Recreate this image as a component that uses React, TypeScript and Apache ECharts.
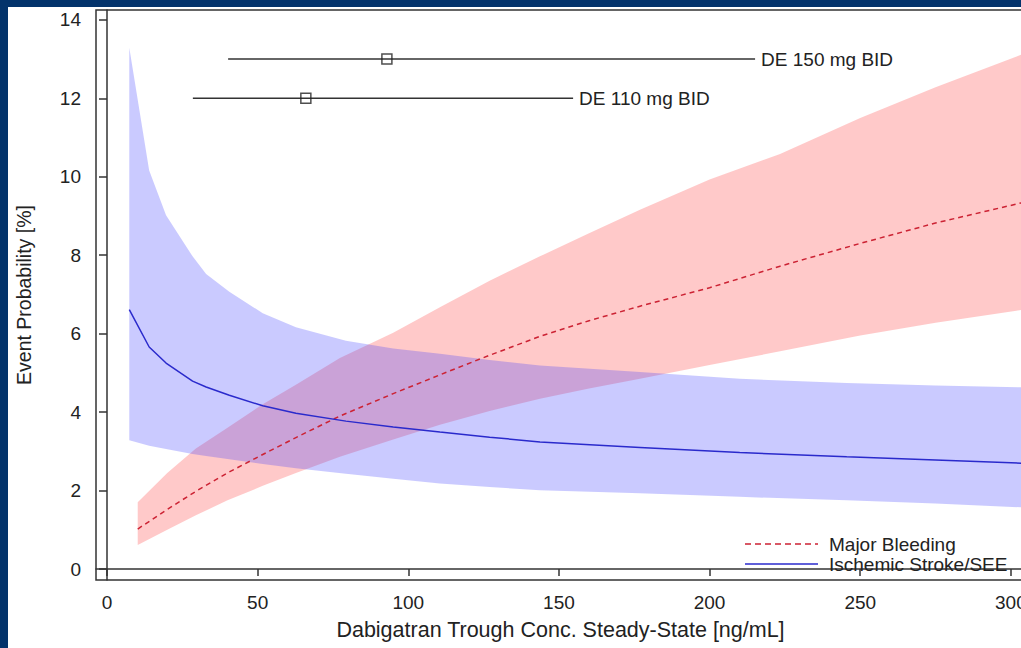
import React, { useEffect, useRef } from "react";
import * as echarts from "echarts";

const xTicks = [0, 50, 100, 150, 200, 250, 300];
const yTicks = [0, 2, 4, 6, 8, 10, 12, 14];

// Major Bleeding (red)
const bleedX = [10.2, 20, 29.5, 40, 51.7, 62.7, 77.3, 95, 110.5, 127, 143.7, 160, 176.9, 200, 223.4, 250, 275, 310];
const bleedMean = [1.02, 1.52, 1.98, 2.45, 2.92, 3.35, 3.9, 4.47, 4.95, 5.45, 5.93, 6.33, 6.7, 7.17, 7.72, 8.3, 8.82, 9.45];
const bleedLower = [0.61, 1.0, 1.37, 1.75, 2.12, 2.45, 2.86, 3.3, 3.68, 4.03, 4.34, 4.6, 4.85, 5.2, 5.55, 5.95, 6.28, 6.68];
const bleedUpper = [1.7, 2.45, 3.07, 3.6, 4.2, 4.7, 5.38, 6.02, 6.67, 7.35, 7.97, 8.56, 9.16, 9.93, 10.58, 11.5, 12.28, 13.3];

// Ischemic Stroke/SEE (blue)
const strokeX = [7.4, 14, 19.6, 28.4, 32.9, 40.6, 51.7, 62.7, 79.3, 95, 110.5, 127, 143.7, 176.9, 210, 245.5, 275, 310];
const strokeMean = [6.61, 5.66, 5.25, 4.79, 4.64, 4.43, 4.16, 3.97, 3.77, 3.62, 3.49, 3.36, 3.24, 3.1, 2.97, 2.86, 2.78, 2.68];
const strokeLower = [3.28, 3.14, 3.06, 2.93, 2.88, 2.8, 2.68, 2.57, 2.43, 2.3, 2.18, 2.09, 2.01, 1.93, 1.84, 1.75, 1.67, 1.55];
const strokeUpper = [13.29, 10.16, 9.02, 7.97, 7.52, 7.07, 6.52, 6.16, 5.82, 5.62, 5.49, 5.33, 5.19, 5.02, 4.85, 4.74, 4.68, 4.62];

// Dose ranges
const doseLabels = ["DE 150 mg BID", "DE 110 mg BID"];
const doseY = [13, 12];
const doseLow = [40.2, 28.5];
const doseMid = [92.9, 66.0];
const doseHigh = [215.1, 154.7];

const legendNames = ["Major Bleeding", "Ischemic Stroke/SEE"];

const FONT = "'Liberation Sans', Arial, Helvetica, sans-serif";
const TEXT = "#222";
const RED = "#cc2233";
const BLUE = "#2a2acc";

const zip = (xs: number[], ys: number[]) => xs.map((x, i) => [x, ys[i]]);

function band(name: string, xs: number[], lo: number[], up: number[], fill: string, z: number) {
  return {
    type: "custom",
    name,
    z,
    silent: true,
    clip: true,
    data: xs.map((x, i) => [x, lo[i], up[i]]),
    encode: { x: 0, y: [1, 2] },
    renderItem: (params: any, api: any) => {
      if (params.dataIndex !== 0) return null;
      const pts: number[][] = [];
      for (let i = 0; i < xs.length; i++) pts.push(api.coord([xs[i], up[i]]));
      for (let i = xs.length - 1; i >= 0; i--) pts.push(api.coord([xs[i], lo[i]]));
      return { type: "polygon", shape: { points: pts }, style: { fill } };
    },
  };
}

export default function App() {
  const ref = useRef<HTMLDivElement>(null);
  useEffect(() => {
    if (!ref.current) return;
    const chart = echarts.init(ref.current, undefined, { renderer: "svg" });
    const doseSeries = doseLabels.map((label, i) => ({
      type: "line",
      name: label,
      data: [[doseLow[i], doseY[i]], [doseHigh[i], doseY[i]]],
      symbol: "none",
      lineStyle: { color: "#333", width: 1.5 },
      endLabel: {
        show: true,
        formatter: label,
        distance: 6,
        color: TEXT,
        fontSize: 19,
        fontFamily: FONT,
      },
      z: 5,
    }));
    const legendLeft = 737;
    const legendTops = [537, 557];
    chart.setOption({
      animation: false,
      backgroundColor: "#ffffff",
      textStyle: { fontFamily: FONT },
      grid: {
        left: 88,
        top: 3,
        width: 945,
        height: 570,
        show: true,
        borderColor: "#333",
        borderWidth: 1.5,
        backgroundColor: "#ffffff",
        outerBoundsMode: "none",
      },
      graphic: legendNames.flatMap((nm, i) => [
        {
          type: "line",
          z: 50,
          shape: { x1: legendLeft, y1: legendTops[i], x2: legendLeft + 73, y2: legendTops[i] },
          style: {
            stroke: i === 0 ? RED : BLUE,
            lineWidth: 1.5,
            lineDash: i === 0 ? [6, 4] : undefined,
          },
        },
        {
          type: "text",
          z: 50,
          x: legendLeft + 84,
          y: legendTops[i],
          style: {
            text: nm,
            fill: TEXT,
            fontSize: 19,
            fontFamily: FONT,
            verticalAlign: "middle",
            align: "left",
          },
        },
      ]),
      xAxis: {
        type: "value",
        min: -3.65,
        max: 310,
        name: "Dabigatran Trough Conc. Steady-State [ng/mL]",
        nameLocation: "middle",
        nameGap: 39,
        nameTextStyle: { color: TEXT, fontSize: 21.5, fontFamily: FONT, padding: [0, 16, 0, 0] },
        axisLine: { show: true, lineStyle: { color: "#333", width: 1.5 } },
        axisTick: { show: true, length: 7, lineStyle: { color: "#333", width: 1.5 }, customValues: xTicks },
        axisLabel: { color: TEXT, fontSize: 19, fontFamily: FONT, margin: 13, customValues: xTicks },
        splitLine: { show: false },
      },
      yAxis: {
        type: "value",
        min: -0.28,
        max: 14.25,
        name: "Event Probability [%]",
        nameLocation: "middle",
        nameGap: 62,
        nameTextStyle: { color: TEXT, fontSize: 19.5, fontFamily: FONT },
        axisLine: { show: true, lineStyle: { color: "#333", width: 1.5 } },
        axisTick: { show: true, length: 8, lineStyle: { color: "#333", width: 1.5 }, customValues: yTicks },
        axisLabel: { color: TEXT, fontSize: 19, fontFamily: FONT, margin: 15, customValues: yTicks },
        splitLine: { show: false },
      },
      series: [
        band("bleedBand", bleedX, bleedLower, bleedUpper, "rgba(255,40,40,0.25)", 1),
        band("strokeBand", strokeX, strokeLower, strokeUpper, "rgba(60,60,255,0.27)", 2),
        {
          type: "line",
          name: legendNames[0],
          data: zip(bleedX, bleedMean),
          symbol: "none",
          color: RED,
          lineStyle: { color: RED, width: 1.5, type: [5, 4] },
          z: 4,
        },
        {
          type: "line",
          name: legendNames[1],
          data: zip(strokeX, strokeMean),
          symbol: "none",
          color: BLUE,
          lineStyle: { color: BLUE, width: 1.5 },
          z: 4,
        },
        ...doseSeries,
        {
          type: "scatter",
          name: "doseMid",
          data: zip(doseMid, doseY),
          symbol: "rect",
          symbolSize: 10,
          itemStyle: { color: "rgba(0,0,0,0)", borderColor: "#222", borderWidth: 1.5 },
          z: 6,
        },
      ],
    });
    return () => chart.dispose();
  }, []);
  return (
    <div style={{ position: "fixed", left: 0, top: 0, width: 1021, height: 648, background: "#03336b", overflow: "hidden" }}>
      <div ref={ref} style={{ position: "absolute", left: 8, top: 7, width: 1013, height: 641 }} />
    </div>
  );
}
